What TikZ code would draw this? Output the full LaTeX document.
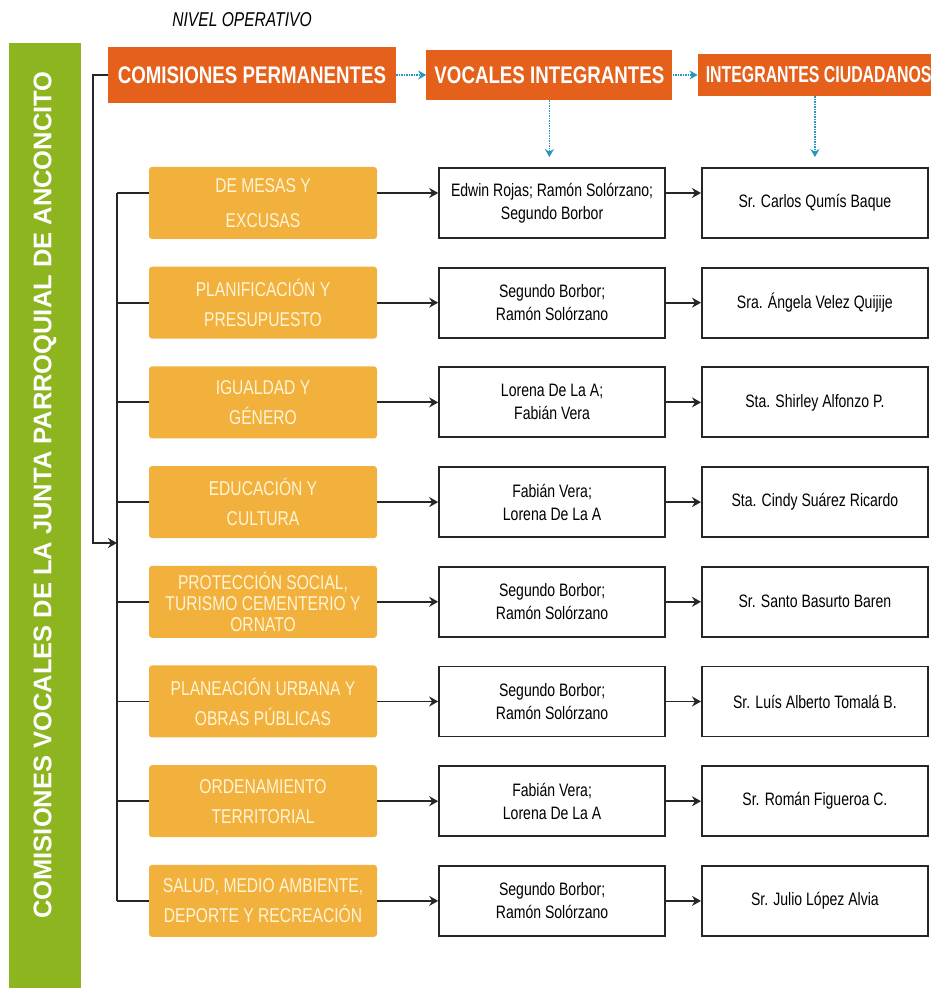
\documentclass[tikz,border=0pt]{standalone}
\usepackage{fontspec}
\setmainfont{Liberation Sans}
\newfontfamily\condfont[FakeStretch=0.78]{Liberation Sans}
\newfontfamily\narrowfont[FakeStretch=0.69]{Liberation Sans}
\usetikzlibrary{arrows.meta,positioning}
\definecolor{barGreen}{HTML}{8DB520}
\definecolor{headOrange}{HTML}{E4601B}
\definecolor{comYellow}{HTML}{F1B13C}
\definecolor{comText}{HTML}{FFF4D6}
\definecolor{linkBlue}{HTML}{2596C1}
\tikzset{
    %Define standard arrow tip
    >={Stealth[length=9pt,width=10pt]},
    %Define style for header boxes
    head/.style={
           rectangle,
           fill=headOrange,
           text=white,
           font=\condfont\bfseries\fontsize{24}{28}\selectfont,
           minimum height=50pt,
           inner sep=6pt},
    %Define style for commission boxes
    comision/.style={
           rectangle,
           rounded corners=3pt,
           fill=comYellow,
           text=comText,
           font=\condfont\fontsize{20}{30}\selectfont,
           align=center,
           minimum width=228pt,
           minimum height=72pt},
    %Define style for name boxes
    box/.style={
           rectangle,
           draw=black!85, line width=1.8pt,
           fill=white,
           font=\condfont\fontsize{18}{23}\selectfont,
           align=center,
           minimum width=226pt,
           minimum height=70pt},
    %Define style for the side title
    title/.style={
           rotate=90,
           text=white,
           font=\bfseries\fontsize{25.5}{30}\selectfont},
    % Define arrow style
    imply/.style={
           ->,
           line width=1.8pt,
           draw=black!85},
    link/.style={
           line width=1.8pt,
           draw=black!85},
    hint/.style={
           ->,
           densely dotted,
           line width=1.5pt,
           draw=linkBlue,
           >={Stealth[length=8pt,width=9pt]}}
}
\begin{document}
\begin{tikzpicture}[x=1pt, y=1pt, node distance=27.3pt]
    \useasboundingbox (0,0) rectangle (931,991);
    \clip (0,0) rectangle (931,991);
 %side bar
    \fill[barGreen] (9,3) rectangle (81,948);
    \node[title] (title) at (45,496) {COMISIONES VOCALES DE LA JUNTA PARROQUIAL DE ANCONCITO};
 %headers
    \node[font=\condfont\itshape\fontsize{20}{24}\selectfont] (nivel) at (242,971) {NIVEL OPERATIVO};
    \node[head, minimum width=288pt, minimum height=56pt] (hcom) at (252,916) {COMISIONES PERMANENTES};
    \node[head, minimum width=246pt, right=30pt of hcom] (hvoc) {VOCALES INTEGRANTES};
    \node[head, minimum height=42pt, inner xsep=8pt, font=\narrowfont\bfseries\fontsize{23}{28}\selectfont,
          right=25pt of hvoc] (hciu) {INTEGRANTES CIUDADANOS};
    \coordinate (bracket) at (93,0);
    \coordinate (trunk) at (117,448);
 %nodes
    \node[comision, font=\condfont\fontsize{20}{35}\selectfont] (com1) at (263,788) {DE MESAS Y\\EXCUSAS};
    \node[comision, below=of com1] (com2) {PLANIFICACIÓN Y\\PRESUPUESTO};
    \node[comision, below=of com2] (com3) {IGUALDAD Y\\GÉNERO};
    \node[comision, below=of com3] (com4) {EDUCACIÓN Y\\CULTURA};
    \node[comision, font=\condfont\fontsize{20}{21}\selectfont, below=of com4] (com5) {PROTECCIÓN SOCIAL,\\TURISMO CEMENTERIO Y\\ORNATO};
    \node[comision, below=of com5] (com6) {PLANEACIÓN URBANA Y\\OBRAS PÚBLICAS};
    \node[comision, below=of com6] (com7) {ORDENAMIENTO\\TERRITORIAL};
    \node[comision, below=of com7] (com8) {SALUD, MEDIO AMBIENTE,\\DEPORTE Y RECREACIÓN};

    \node[box, right=61pt of com1] (voc1) {Edwin Rojas; Ramón Solórzano;\\Segundo Borbor};
    \node[box, right=61pt of com2] (voc2) {Segundo Borbor;\\Ramón Solórzano};
    \node[box, right=61pt of com3] (voc3) {Lorena De La A;\\Fabián Vera};
    \node[box, right=61pt of com4] (voc4) {Fabián Vera;\\Lorena De La A};
    \node[box, right=61pt of com5] (voc5) {Segundo Borbor;\\Ramón Solórzano};
    \node[box, right=61pt of com6] (voc6) {Segundo Borbor;\\Ramón Solórzano};
    \node[box, right=61pt of com7] (voc7) {Fabián Vera;\\Lorena De La A};
    \node[box, right=61pt of com8] (voc8) {Segundo Borbor;\\Ramón Solórzano};

    \node[box, right=35pt of voc1] (ciud1) {Sr. Carlos Qumís Baque};
    \node[box, right=35pt of voc2] (ciud2) {Sra. Ángela Velez Quijije};
    \node[box, right=35pt of voc3] (ciud3) {Sta. Shirley Alfonzo P.};
    \node[box, right=35pt of voc4] (ciud4) {Sta. Cindy Suárez Ricardo};
    \node[box, right=35pt of voc5] (ciud5) {Sr. Santo Basurto Baren};
    \node[box, right=35pt of voc6] (ciud6) {Sr. Luís Alberto Tomalá B.};
    \node[box, right=35pt of voc7] (ciud7) {Sr. Román Figueroa C.};
    \node[box, right=35pt of voc8] (ciud8) {Sr. Julio López Alvia};
 %edges
    \draw[hint] (hcom) -- (hvoc);
    \draw[hint] (hvoc) -- (hciu);
    \draw[hint, shorten >=10pt] (hvoc.south) -- (hvoc.south |- voc1.north);
    \draw[hint, shorten >=10pt] (ciud1.north |- hciu.south) -- (ciud1.north);
    \draw[imply] (hcom.west) -- (hcom.west -| bracket) |- (trunk);
    \draw[link] ([yshift=10pt]com1.west -| trunk) -- (com8.west -| trunk);
    \draw[link] ([yshift=10pt]com1.west) -- ([yshift=10pt]com1.west -| trunk);
    \draw[link] (com2.west) -- (com2.west -| trunk);
    \draw[link] (com3.west) -- (com3.west -| trunk);
    \draw[link] (com4.west) -- (com4.west -| trunk);
    \draw[link] (com5.west) -- (com5.west -| trunk);
    \draw[link] (com6.west) -- (com6.west -| trunk);
    \draw[link] (com7.west) -- (com7.west -| trunk);
    \draw[link] (com8.west) -- (com8.west -| trunk);
    \draw[imply] ([yshift=10pt]com1.east) -- ([yshift=10pt]voc1.west);
    \draw[imply] (com2) -- (voc2);
    \draw[imply] (com3) -- (voc3);
    \draw[imply] (com4) -- (voc4);
    \draw[imply] (com5) -- (voc5);
    \draw[imply] (com6) -- (voc6);
    \draw[imply] (com7) -- (voc7);
    \draw[imply] (com8) -- (voc8);
    \draw[imply] ([yshift=10pt]voc1.east) -- ([yshift=10pt]ciud1.west);
    \draw[imply] (voc2) -- (ciud2);
    \draw[imply] (voc3) -- (ciud3);
    \draw[imply] (voc4) -- (ciud4);
    \draw[imply] (voc5) -- (ciud5);
    \draw[imply] (voc6) -- (ciud6);
    \draw[imply] (voc7) -- (ciud7);
    \draw[imply] (voc8) -- (ciud8);
\end{tikzpicture}
\end{document}
